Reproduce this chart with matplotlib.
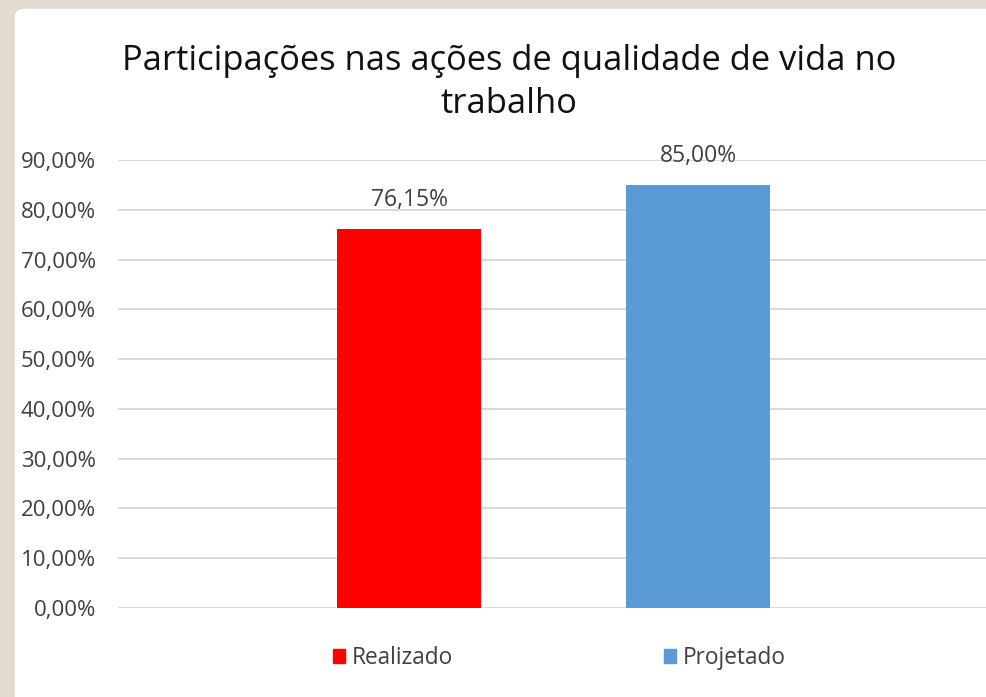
import matplotlib

matplotlib.use("Agg")
import matplotlib.pyplot as plt
from matplotlib.patches import FancyBboxPatch
from matplotlib.ticker import FuncFormatter

plt.rcParams["font.family"] = ["Open Sans", "DejaVu Sans"]

TITLE = "Participações nas ações de qualidade de vida no\ntrabalho"
SERIES = ["Realizado", "Projetado"]
VALUES = [0.7615, 0.85]
COLORS = ["#ff0000", "#5b9bd5"]
Y_TICKS = [i / 10 for i in range(10)]

W, H = 987, 697


def pct(v, _pos=None):
    return f"{v * 100:.2f}%".replace(".", ",")


fig = plt.figure(figsize=(W / 100, H / 100), dpi=100)
fig.patch.set_facecolor("#e4dccf")

# white chart panel with a rounded corner, sitting on the beige backdrop
panel = FancyBboxPatch((14 / W, -0.05), 1.1, 1 - 8 / H + 0.05,
                       boxstyle="round,pad=0,rounding_size=0.012",
                       transform=fig.transFigure, facecolor="white",
                       edgecolor="#d8d8d8", linewidth=1.0, zorder=-5)
fig.patches.append(panel)

ax = fig.add_axes([118 / W, (H - 608) / H, 1 - 118 / W, (608 - 160) / H])
ax.set_zorder(2)
ax.set_facecolor("none")

xs = list(range(len(SERIES)))
ax.bar(xs, VALUES, width=0.498, color=COLORS, zorder=3)
for x, v in zip(xs, VALUES):
    ax.annotate(pct(v), (x, v), xytext=(0, 12), textcoords="offset points",
                ha="center", va="bottom", fontsize=16.5, color="#404040")

ax.set_xlim(-1.007, 2.0)
ax.set_ylim(0, 0.9)
ax.set_yticks(Y_TICKS)
ax.yaxis.set_major_formatter(FuncFormatter(pct))
ax.tick_params(axis="y", length=0, pad=16, labelsize=16, labelcolor="#404040")
ax.set_xticks([])
ax.grid(axis="y", color="#d9d9d9", linewidth=1.4, zorder=0)
for s in ax.spines.values():
    s.set_visible(False)

fig.text(509 / W, 1 - 44 / H, TITLE, ha="center", va="top", fontsize=24.8,
         color="#111111", linespacing=1.35)

handles = [plt.Rectangle((0, 0), 1, 1, color=c) for c in COLORS]
fig.legend(handles, SERIES, loc="center", bbox_to_anchor=(559.5 / W, 1 - 658 / H),
           ncol=2, frameon=False, fontsize=16.3, handlelength=0.53,
           handleheight=0.53, handletextpad=0.31, columnspacing=9.3,
           labelcolor="#404040")

fig.savefig("out.png", dpi=100)
